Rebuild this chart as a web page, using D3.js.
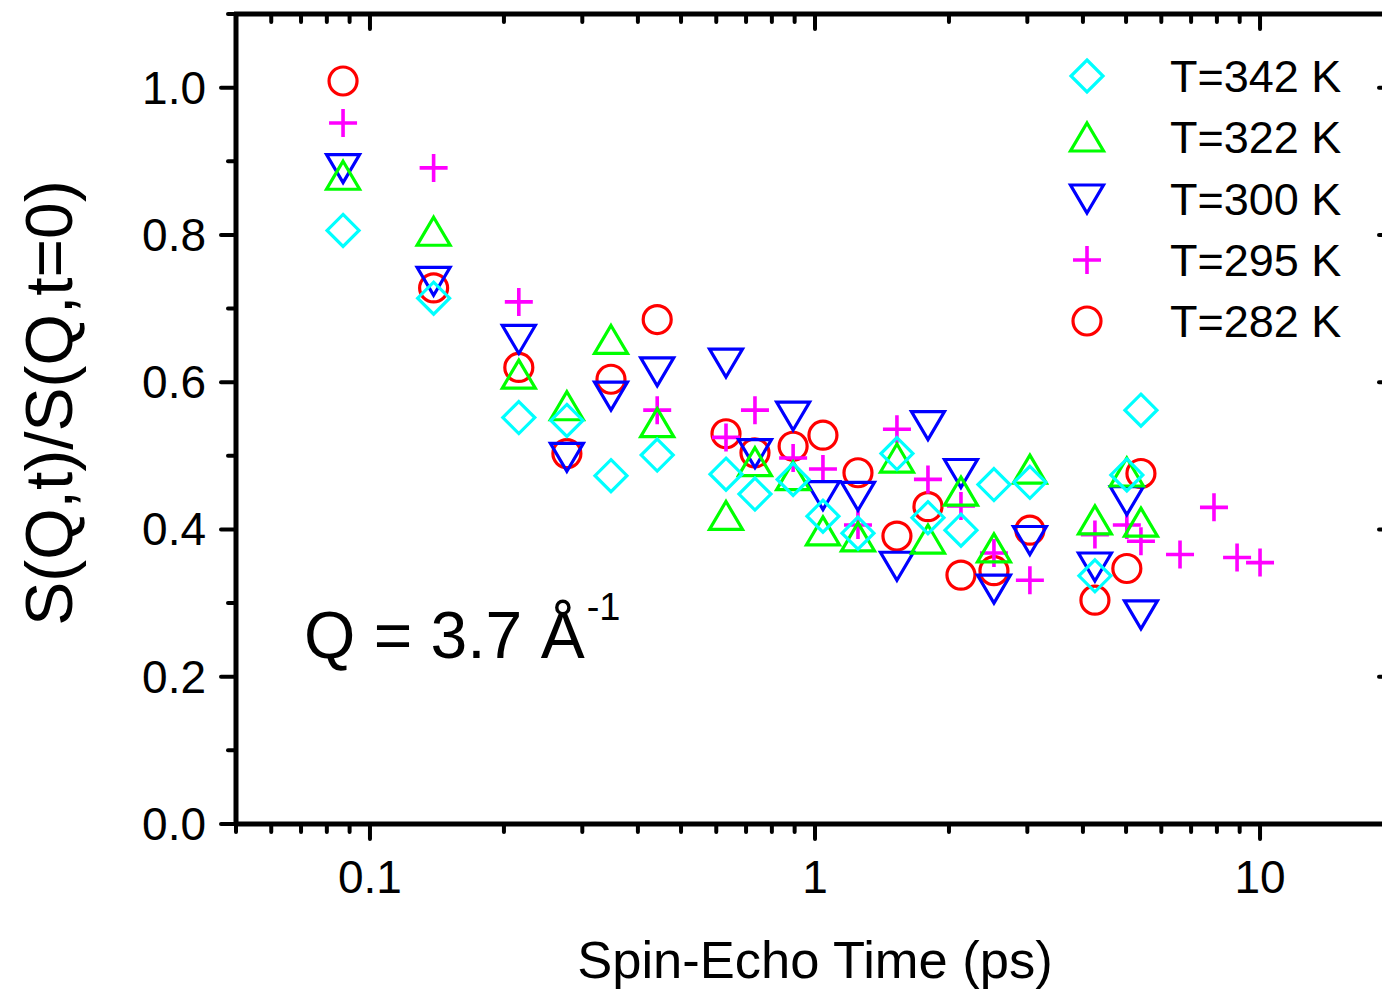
<!DOCTYPE html>
<html>
<head>
<meta charset="utf-8">
<script src="https://cdn.jsdelivr.net/npm/d3@7/dist/d3.min.js"></script>
<style>
  html, body { margin: 0; padding: 0; background: #fff; }
  svg { display: block; font-family: "Liberation Sans", Arial, sans-serif; }
</style>
</head>
<body>
<svg id="chart" width="1382" height="992"></svg>
<script>
// ---- data ----
const times = [0.087, 0.139, 0.216, 0.277, 0.348, 0.442, 0.631, 0.733, 0.893, 1.042, 1.249, 1.528, 1.794, 2.128, 2.524, 3.04, 4.256, 5.02, 5.40, 6.61, 7.88, 8.88, 10.0];
const s342 = [0.806, 0.714, 0.552, 0.548, 0.473, 0.501, 0.475, 0.448, 0.468, 0.418, 0.395, 0.503, 0.416, 0.399, 0.461, 0.464, 0.337, 0.474, 0.562, null, null, null, null];
const s322 = [0.881, 0.805, 0.611, 0.568, 0.658, 0.545, 0.419, 0.492, 0.473, 0.398, 0.390, 0.497, 0.387, 0.452, 0.375, 0.482, 0.413, 0.478, 0.410, null, null, null, null];
const s300 = [0.890, 0.737, 0.658, 0.498, 0.581, 0.614, 0.626, 0.503, 0.554, 0.446, 0.445, 0.350, 0.541, 0.476, 0.319, 0.385, 0.349, 0.439, 0.284, null, null, null, null];
const s295 = [0.952, 0.891, 0.709, null, null, 0.562, 0.525, 0.562, 0.497, 0.482, 0.406, 0.536, 0.468, 0.432, 0.368, 0.331, 0.393, 0.406, 0.384, 0.366, 0.430, 0.362, 0.355];
const s282 = [1.009, 0.728, 0.620, 0.503, 0.604, 0.685, 0.530, 0.504, 0.513, 0.528, 0.477, 0.391, 0.431, 0.338, 0.344, 0.399, 0.304, 0.347, 0.476, null, null, null, null];
const seriesLabels = ["T=342 K", "T=322 K", "T=300 K", "T=295 K", "T=282 K"];
const seriesColors = ["#00FFFF", "#00FF00", "#0000FF", "#FF00FF", "#FF0000"];
const seriesShapes = ["diamond", "up", "down", "plus", "circle"];
const seriesValues = [s342, s322, s300, s295, s282];
const xMajorTicks = [0.1, 1, 10];
const xMajorLabels = ["0.1", "1", "10"];
const yMajorTicks = [0.0, 0.2, 0.4, 0.6, 0.8, 1.0];
const yMajorLabels = ["0.0", "0.2", "0.4", "0.6", "0.8", "1.0"];

// ---- layout ----
const svg = d3.select("#chart");
const L = 236, R = 1394, T = 14, B = 824;
const x = d3.scaleLog().domain([0.05, 20]).range([L, R]);
const y = d3.scaleLinear().domain([0, 1.1]).range([B, T]);

function shapePath(shape) {
  const p = d3.path();
  if (shape === "diamond") {
    p.moveTo(0, -16); p.lineTo(16, 0); p.lineTo(0, 16); p.lineTo(-16, 0); p.closePath();
  } else if (shape === "up") {
    p.moveTo(0, -14); p.lineTo(16.5, 14); p.lineTo(-16.5, 14); p.closePath();
  } else if (shape === "down") {
    p.moveTo(0, 14); p.lineTo(16.5, -14); p.lineTo(-16.5, -14); p.closePath();
  } else if (shape === "plus") {
    p.moveTo(-14, 0); p.lineTo(14, 0); p.moveTo(0, -14); p.lineTo(0, 14);
  } else {
    p.moveTo(14, 0); p.arc(0, 0, 14, 0, 2 * Math.PI);
  }
  return p.toString();
}

// ---- data marks (draw from last series to first so cyan is on top) ----
const gData = svg.append("g");
for (let s = seriesValues.length - 1; s >= 0; s--) {
  const pts = times.map((t, i) => ({ t, v: seriesValues[s][i] })).filter(d => d.v !== null);
  gData.append("g").selectAll("path").data(pts).join("path")
    .attr("transform", d => `translate(${x(d.t)},${y(d.v)})`)
    .attr("d", shapePath(seriesShapes[s]))
    .attr("fill", "none")
    .attr("stroke", seriesColors[s])
    .attr("stroke-width", seriesShapes[s] === "plus" ? 3.6 : 3.2);
}

// ---- axes ----
const axisW = 5;
const xMinor = [];
[0.01, 0.1, 1, 10].forEach(dec => { for (let k = 2; k <= 9; k++) { const v = dec * k; if (v >= 0.05 && v <= 20 && !xMajorTicks.includes(v)) xMinor.push(v); } });
xMinor.push(20);
const yMinor = d3.range(0.1, 1.11, 0.2).map(v => +v.toFixed(1));

const gAxes = svg.append("g").attr("stroke", "#000").attr("stroke-linecap", "round");
gAxes.append("line").attr("x1", L - 2).attr("x2", R + 2).attr("y1", B).attr("y2", B).attr("stroke-width", axisW).attr("stroke-linecap", "butt");
gAxes.append("line").attr("x1", L - 2).attr("x2", R + 2).attr("y1", T).attr("y2", T).attr("stroke-width", axisW).attr("stroke-linecap", "butt");
gAxes.append("line").attr("x1", L).attr("x2", L).attr("y1", T).attr("y2", B).attr("stroke-width", axisW).attr("stroke-linecap", "butt");
gAxes.append("line").attr("x1", R).attr("x2", R).attr("y1", T).attr("y2", B).attr("stroke-width", axisW).attr("stroke-linecap", "butt");

const majLen = 15, minLen = 8;
xMajorTicks.forEach(v => {
  gAxes.append("line").attr("x1", x(v)).attr("x2", x(v)).attr("y1", B).attr("y2", B + majLen).attr("stroke-width", 4);
  gAxes.append("line").attr("x1", x(v)).attr("x2", x(v)).attr("y1", T).attr("y2", T + majLen).attr("stroke-width", 4);
});
xMinor.forEach(v => {
  gAxes.append("line").attr("x1", x(v)).attr("x2", x(v)).attr("y1", B).attr("y2", B + minLen).attr("stroke-width", 4);
  gAxes.append("line").attr("x1", x(v)).attr("x2", x(v)).attr("y1", T).attr("y2", T + minLen).attr("stroke-width", 4);
});
yMajorTicks.forEach(v => {
  gAxes.append("line").attr("x1", L - majLen).attr("x2", L).attr("y1", y(v)).attr("y2", y(v)).attr("stroke-width", 4);
  gAxes.append("line").attr("x1", R - majLen).attr("x2", R).attr("y1", y(v)).attr("y2", y(v)).attr("stroke-width", 4);
});
yMinor.forEach(v => {
  gAxes.append("line").attr("x1", L - minLen).attr("x2", L).attr("y1", y(v)).attr("y2", y(v)).attr("stroke-width", 4);
  gAxes.append("line").attr("x1", R - minLen).attr("x2", R).attr("y1", y(v)).attr("y2", y(v)).attr("stroke-width", 4);
});

// tick labels
svg.append("g").selectAll("text").data(xMajorTicks).join("text")
  .attr("x", d => x(d)).attr("y", 893)
  .attr("text-anchor", "middle").attr("font-size", 46)
  .text((d, i) => xMajorLabels[i]);
svg.append("g").selectAll("text").data(yMajorTicks).join("text")
  .attr("x", 206).attr("y", d => y(d) + 16)
  .attr("text-anchor", "end").attr("font-size", 46)
  .text((d, i) => yMajorLabels[i]);

// axis titles
svg.append("text").attr("x", (L + R) / 2).attr("y", 978)
  .attr("text-anchor", "middle").attr("font-size", 52.5)
  .text("Spin-Echo Time (ps)");
svg.append("text").attr("transform", "translate(72,403) rotate(-90)")
  .attr("text-anchor", "middle").attr("font-size", 66)
  .text("S(Q,t)/S(Q,t=0)");

// annotation
const ann = svg.append("text").attr("x", 304).attr("y", 658).attr("font-size", 66);
ann.append("tspan").text("Q = 3.7 Å");
ann.append("tspan").attr("font-size", 38).attr("dy", -38).attr("dx", 2).text("-1");

// legend
const legY = [76, 137, 199, 260, 321];
const gLeg = svg.append("g");
seriesLabels.forEach((lab, i) => {
  gLeg.append("path")
    .attr("transform", `translate(1087,${legY[i]})`)
    .attr("d", shapePath(seriesShapes[i]))
    .attr("fill", "none").attr("stroke", seriesColors[i]).attr("stroke-width", seriesShapes[i] === "plus" ? 3.6 : 3.2);
  gLeg.append("text").attr("x", 1170).attr("y", legY[i] + 16)
    .attr("font-size", 45).text(lab);
});
</script>
</body>
</html>
